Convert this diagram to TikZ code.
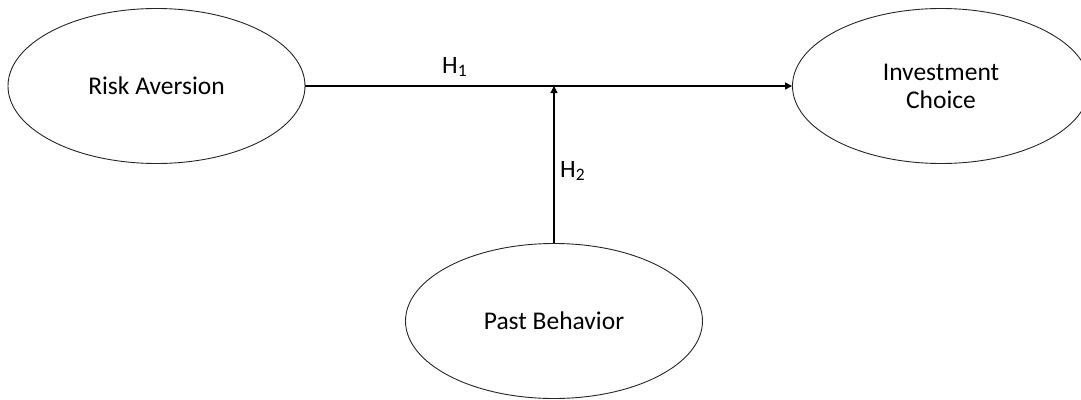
\documentclass[tikz,border=0pt]{standalone}
\usepackage{fontspec}
\setmainfont{Carlito}
\usetikzlibrary{shapes.geometric,arrows.meta}
\begin{document}
\begin{tikzpicture}[x=1pt,y=-1pt,
  construct/.style={draw=black!85, line width=0.9pt, ellipse, minimum width=297pt,
    minimum height=155pt, inner sep=0pt, align=center,
    font=\fontsize{25.5}{28}\selectfont},
  path/.style={draw=black, line width=1.3pt, -{Triangle[length=7pt,width=7pt]}},
  hyp/.style={font=\fontsize{25}{28}\selectfont, inner sep=0pt, anchor=base west}]
  \useasboundingbox (0,0) rectangle (1081,399);
  \node[construct] (ra) at (156.5,86) {Risk Aversion};
  \node[construct] (ic) at (941,86) {Investment\\Choice};
  \node[construct] (pb) at (554,321) {Past Behavior};
  \coordinate (mod) at (pb.north |- ra.east);
  \draw[path] (ra.east) -- (ic.west);
  \draw[path] (pb.north) -- (mod);
  \node[hyp] (h1) at (442,73) {H\textsubscript{1}};
  \node[hyp] (h2) at (560,177) {H\textsubscript{2}};
\end{tikzpicture}
\end{document}
